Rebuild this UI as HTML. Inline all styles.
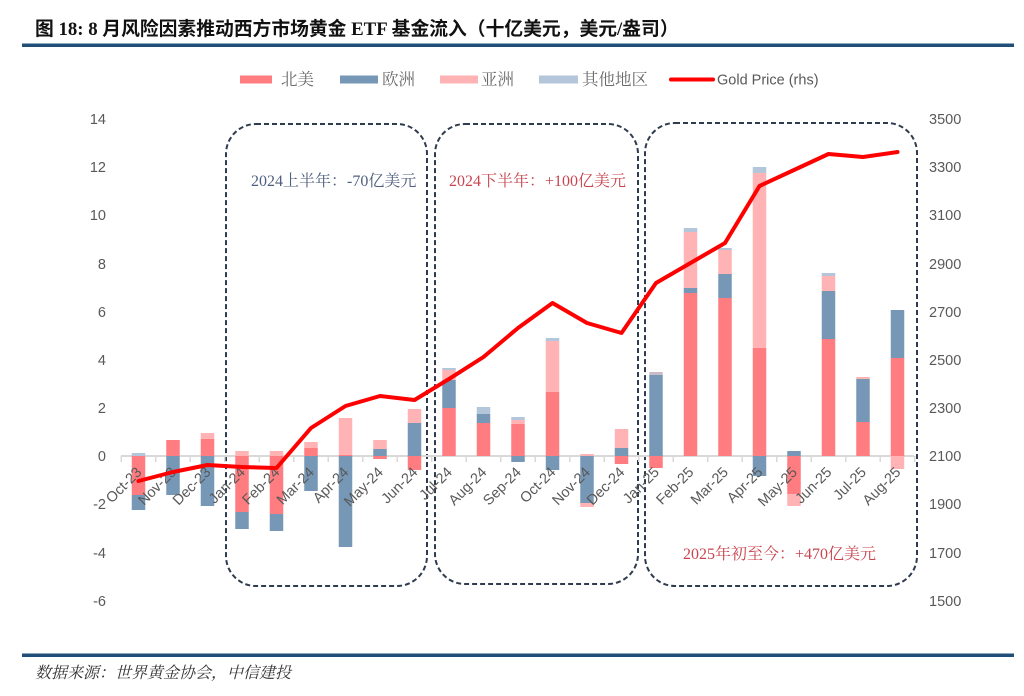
<!DOCTYPE html>
<html>
<head>
<meta charset="utf-8">
<style>
  html,body{margin:0;padding:0;background:#fff;}
  body{width:1024px;height:696px;overflow:hidden;}
  svg{display:block;}
  .ax{font-family:"Liberation Sans","DejaVu Sans",sans-serif;font-size:14.5px;fill:#595959;}
  .lg{font-family:"Liberation Serif","Noto Serif CJK SC",serif;font-size:16.5px;fill:#6b6b6b;}
  .ann{font-family:"Liberation Serif","Noto Serif CJK SC",serif;font-size:16px;}
</style>
</head>
<body>
<svg width="1024" height="696" viewBox="0 0 1024 696" xmlns="http://www.w3.org/2000/svg">
  <!-- Title -->
  <text x="35" y="35" font-family="'Liberation Serif','Noto Sans CJK SC',serif" font-weight="bold" font-size="18.8px" fill="#111">图 18: 8 月风险因素推动西方市场黄金 ETF 基金流入（十亿美元，美元/盎司）</text>
  <rect x="22" y="43.5" width="992" height="3.5" fill="#1f4e79"/>

  <!-- Legend -->
  <rect x="240" y="75.5" width="32" height="8" fill="#ff7c80"/>
  <text class="lg" x="281" y="85">北美</text>
  <rect x="340" y="75.5" width="38" height="8" fill="#7698b6"/>
  <text class="lg" x="382" y="85">欧洲</text>
  <rect x="440" y="75.5" width="38" height="8" fill="#ffb3b5"/>
  <text class="lg" x="481" y="85">亚洲</text>
  <rect x="539" y="75.5" width="39" height="8" fill="#b3c6da"/>
  <text class="lg" x="582" y="85">其他地区</text>
  <line x1="671" y1="79.5" x2="713" y2="79.5" stroke="#ff0000" stroke-width="4" stroke-linecap="round"/>
  <text class="ax" x="717" y="84.5" font-size="14px">Gold Price (rhs)</text>

  <!-- Left axis labels -->
  <g class="ax" text-anchor="end">
    <text x="106" y="124">14</text>
    <text x="106" y="172">12</text>
    <text x="106" y="220">10</text>
    <text x="106" y="269">8</text>
    <text x="106" y="317">6</text>
    <text x="106" y="365">4</text>
    <text x="106" y="413">2</text>
    <text x="106" y="461">0</text>
    <text x="106" y="509">-2</text>
    <text x="106" y="558">-4</text>
    <text x="106" y="606">-6</text>
  </g>
  <!-- Right axis labels -->
  <g class="ax" text-anchor="start">
    <text x="929" y="124">3500</text>
    <text x="929" y="172">3300</text>
    <text x="929" y="220">3100</text>
    <text x="929" y="269">2900</text>
    <text x="929" y="317">2700</text>
    <text x="929" y="365">2500</text>
    <text x="929" y="413">2300</text>
    <text x="929" y="461">2100</text>
    <text x="929" y="509">1900</text>
    <text x="929" y="558">1700</text>
    <text x="929" y="606">1500</text>
  </g>

  <!-- Dashed boxes -->
  <g fill="none" stroke="#2f3b4f" stroke-width="2" stroke-dasharray="5,3">
    <rect x="226" y="124" width="201" height="462" rx="30" ry="30"/>
    <rect x="435" y="124" width="203" height="460" rx="30" ry="30"/>
    <rect x="645" y="123" width="272" height="463" rx="30" ry="30"/>
  </g>

  <!-- Annotations -->
  <text class="ann" x="251" y="186" fill="#4f5f7f">2024上半年：-70亿美元</text>
  <text class="ann" x="449" y="186" fill="#c8454f">2024下半年：+100亿美元</text>
  <text class="ann" x="683" y="559" fill="#c8454f">2025年初至今：+470亿美元</text>

  <!-- Zero axis -->
  <line x1="121" y1="456" x2="914" y2="456" stroke="#d9d9d9" stroke-width="2"/>
  <g stroke="#d9d9d9" stroke-width="1.5">
    <line x1="121.25" y1="456" x2="121.25" y2="462"/>
    <line x1="155.75" y1="456" x2="155.75" y2="462"/>
    <line x1="190.25" y1="456" x2="190.25" y2="462"/>
    <line x1="224.75" y1="456" x2="224.75" y2="462"/>
    <line x1="259.25" y1="456" x2="259.25" y2="462"/>
    <line x1="293.75" y1="456" x2="293.75" y2="462"/>
    <line x1="328.25" y1="456" x2="328.25" y2="462"/>
    <line x1="362.75" y1="456" x2="362.75" y2="462"/>
    <line x1="397.25" y1="456" x2="397.25" y2="462"/>
    <line x1="431.75" y1="456" x2="431.75" y2="462"/>
    <line x1="466.25" y1="456" x2="466.25" y2="462"/>
    <line x1="500.75" y1="456" x2="500.75" y2="462"/>
    <line x1="535.25" y1="456" x2="535.25" y2="462"/>
    <line x1="569.75" y1="456" x2="569.75" y2="462"/>
    <line x1="604.25" y1="456" x2="604.25" y2="462"/>
    <line x1="638.75" y1="456" x2="638.75" y2="462"/>
    <line x1="673.25" y1="456" x2="673.25" y2="462"/>
    <line x1="707.75" y1="456" x2="707.75" y2="462"/>
    <line x1="742.25" y1="456" x2="742.25" y2="462"/>
    <line x1="776.75" y1="456" x2="776.75" y2="462"/>
    <line x1="811.25" y1="456" x2="811.25" y2="462"/>
    <line x1="845.75" y1="456" x2="845.75" y2="462"/>
    <line x1="880.25" y1="456" x2="880.25" y2="462"/>
    <line x1="914.75" y1="456" x2="914.75" y2="462"/>
  </g>

  <!-- Bars -->
  <g>
    <rect x="131.75" y="453" width="13.5" height="3" fill="#b3c6da"/>
    <rect x="131.75" y="456" width="13.5" height="39" fill="#ff7c80"/>
    <rect x="131.75" y="495" width="13.5" height="15" fill="#7698b6"/>
    <rect x="166.25" y="440" width="13.5" height="16" fill="#ff7c80"/>
    <rect x="166.25" y="456" width="13.5" height="39" fill="#7698b6"/>
    <rect x="200.75" y="433" width="13.5" height="6" fill="#ffb3b5"/>
    <rect x="200.75" y="439" width="13.5" height="17" fill="#ff7c80"/>
    <rect x="200.75" y="456" width="13.5" height="50" fill="#7698b6"/>
    <rect x="235.25" y="451" width="13.5" height="5" fill="#ffb3b5"/>
    <rect x="235.25" y="456" width="13.5" height="56" fill="#ff7c80"/>
    <rect x="235.25" y="512" width="13.5" height="17" fill="#7698b6"/>
    <rect x="269.75" y="451" width="13.5" height="5" fill="#ffb3b5"/>
    <rect x="269.75" y="456" width="13.5" height="58" fill="#ff7c80"/>
    <rect x="269.75" y="514" width="13.5" height="17" fill="#7698b6"/>
    <rect x="304.25" y="442" width="13.5" height="6" fill="#ffb3b5"/>
    <rect x="304.25" y="448" width="13.5" height="8" fill="#ff7c80"/>
    <rect x="304.25" y="456" width="13.5" height="35" fill="#7698b6"/>
    <rect x="338.75" y="418" width="13.5" height="37" fill="#ffb3b5"/>
    <rect x="338.75" y="455" width="13.5" height="1" fill="#ff7c80"/>
    <rect x="338.75" y="456" width="13.5" height="91" fill="#7698b6"/>
    <rect x="373.25" y="440" width="13.5" height="9" fill="#ffb3b5"/>
    <rect x="373.25" y="449" width="13.5" height="7" fill="#7698b6"/>
    <rect x="373.25" y="456" width="13.5" height="3" fill="#ff7c80"/>
    <rect x="407.75" y="409" width="13.5" height="14" fill="#ffb3b5"/>
    <rect x="407.75" y="423" width="13.5" height="33" fill="#7698b6"/>
    <rect x="407.75" y="456" width="13.5" height="14" fill="#ff7c80"/>
    <rect x="442.25" y="368" width="13.5" height="2" fill="#b3c6da"/>
    <rect x="442.25" y="370" width="13.5" height="10" fill="#ffb3b5"/>
    <rect x="442.25" y="380" width="13.5" height="28" fill="#7698b6"/>
    <rect x="442.25" y="408" width="13.5" height="48" fill="#ff7c80"/>
    <rect x="476.75" y="407" width="13.5" height="7" fill="#b3c6da"/>
    <rect x="476.75" y="414" width="13.5" height="9" fill="#7698b6"/>
    <rect x="476.75" y="423" width="13.5" height="33" fill="#ff7c80"/>
    <rect x="511.25" y="417" width="13.5" height="3" fill="#b3c6da"/>
    <rect x="511.25" y="420" width="13.5" height="4" fill="#ffb3b5"/>
    <rect x="511.25" y="424" width="13.5" height="32" fill="#ff7c80"/>
    <rect x="511.25" y="456" width="13.5" height="6" fill="#7698b6"/>
    <rect x="545.75" y="338" width="13.5" height="3" fill="#b3c6da"/>
    <rect x="545.75" y="341" width="13.5" height="51" fill="#ffb3b5"/>
    <rect x="545.75" y="392" width="13.5" height="64" fill="#ff7c80"/>
    <rect x="545.75" y="456" width="13.5" height="14" fill="#7698b6"/>
    <rect x="580.25" y="454" width="13.5" height="2" fill="#ffb3b5"/>
    <rect x="580.25" y="456" width="13.5" height="47" fill="#7698b6"/>
    <rect x="580.25" y="503" width="13.5" height="4" fill="#ffb3b5"/>
    <rect x="614.75" y="429" width="13.5" height="19" fill="#ffb3b5"/>
    <rect x="614.75" y="448" width="13.5" height="8" fill="#7698b6"/>
    <rect x="614.75" y="456" width="13.5" height="8" fill="#ff7c80"/>
    <rect x="649.25" y="372" width="13.5" height="3" fill="#c9bcc8"/>
    <rect x="649.25" y="375" width="13.5" height="81" fill="#7698b6"/>
    <rect x="649.25" y="456" width="13.5" height="12" fill="#ff7c80"/>
    <rect x="683.75" y="228" width="13.5" height="4" fill="#b3c6da"/>
    <rect x="683.75" y="232" width="13.5" height="56" fill="#ffb3b5"/>
    <rect x="683.75" y="288" width="13.5" height="5" fill="#7698b6"/>
    <rect x="683.75" y="293" width="13.5" height="163" fill="#ff7c80"/>
    <rect x="718.25" y="248" width="13.5" height="2" fill="#b3c6da"/>
    <rect x="718.25" y="250" width="13.5" height="24" fill="#ffb3b5"/>
    <rect x="718.25" y="274" width="13.5" height="24" fill="#7698b6"/>
    <rect x="718.25" y="298" width="13.5" height="158" fill="#ff7c80"/>
    <rect x="752.75" y="167" width="13.5" height="6" fill="#b3c6da"/>
    <rect x="752.75" y="173" width="13.5" height="175" fill="#ffb3b5"/>
    <rect x="752.75" y="348" width="13.5" height="108" fill="#ff7c80"/>
    <rect x="752.75" y="456" width="13.5" height="20" fill="#7698b6"/>
    <rect x="787.25" y="451" width="13.5" height="5" fill="#7698b6"/>
    <rect x="787.25" y="456" width="13.5" height="38" fill="#ff7c80"/>
    <rect x="787.25" y="494" width="13.5" height="12" fill="#ffb3b5"/>
    <rect x="821.75" y="273" width="13.5" height="3" fill="#b3c6da"/>
    <rect x="821.75" y="276" width="13.5" height="15" fill="#ffb3b5"/>
    <rect x="821.75" y="291" width="13.5" height="48" fill="#7698b6"/>
    <rect x="821.75" y="339" width="13.5" height="117" fill="#ff7c80"/>
    <rect x="856.25" y="377" width="13.5" height="2" fill="#ffb3b5"/>
    <rect x="856.25" y="379" width="13.5" height="43" fill="#7698b6"/>
    <rect x="856.25" y="422" width="13.5" height="34" fill="#ff7c80"/>
    <rect x="890.75" y="310" width="13.5" height="48" fill="#7698b6"/>
    <rect x="890.75" y="358" width="13.5" height="98" fill="#ff7c80"/>
    <rect x="890.75" y="456" width="13.5" height="13" fill="#ffb3b5"/>
  </g>

  <!-- X labels -->
  <g class="ax" text-anchor="end">
    <text transform="translate(142.5,473) rotate(-45)">Oct-23</text>
    <text transform="translate(177,473) rotate(-45)">Nov-23</text>
    <text transform="translate(211.5,473) rotate(-45)">Dec-23</text>
    <text transform="translate(246,473) rotate(-45)">Jan-24</text>
    <text transform="translate(280.5,473) rotate(-45)">Feb-24</text>
    <text transform="translate(315,473) rotate(-45)">Mar-24</text>
    <text transform="translate(349.5,473) rotate(-45)">Apr-24</text>
    <text transform="translate(384,473) rotate(-45)">May-24</text>
    <text transform="translate(418.5,473) rotate(-45)">Jun-24</text>
    <text transform="translate(453,473) rotate(-45)">Jul-24</text>
    <text transform="translate(487.5,473) rotate(-45)">Aug-24</text>
    <text transform="translate(522,473) rotate(-45)">Sep-24</text>
    <text transform="translate(556.5,473) rotate(-45)">Oct-24</text>
    <text transform="translate(591,473) rotate(-45)">Nov-24</text>
    <text transform="translate(625.5,473) rotate(-45)">Dec-24</text>
    <text transform="translate(660,473) rotate(-45)">Jan-25</text>
    <text transform="translate(694.5,473) rotate(-45)">Feb-25</text>
    <text transform="translate(729,473) rotate(-45)">Mar-25</text>
    <text transform="translate(763.5,473) rotate(-45)">Apr-25</text>
    <text transform="translate(798,473) rotate(-45)">May-25</text>
    <text transform="translate(832.5,473) rotate(-45)">Jun-25</text>
    <text transform="translate(867,473) rotate(-45)">Jul-25</text>
    <text transform="translate(901.5,473) rotate(-45)">Aug-25</text>
  </g>

  <!-- Gold price line -->
  <polyline fill="none" stroke="#ff0000" stroke-width="4" stroke-linejoin="round" stroke-linecap="round"
    points="138.5,481 173,472 207.5,465 242,467 276.5,468 311,428 345.5,406 380,396 414.5,400 449,379 483.5,357 518,328 552.5,303 587,323 621.5,333 656,283 690.5,263 725,243 759.5,186 794,170 828.5,154 863,157 897.5,152"/>

  <!-- Footer -->
  <rect x="22" y="653.5" width="992" height="3.5" fill="#1f4e79"/>
  <text x="35" y="678" font-family="'Liberation Serif','Noto Serif CJK SC',serif" font-style="italic" font-size="16px" fill="#333">数据来源：世界黄金协会，中信建投</text>
</svg>
</body>
</html>
